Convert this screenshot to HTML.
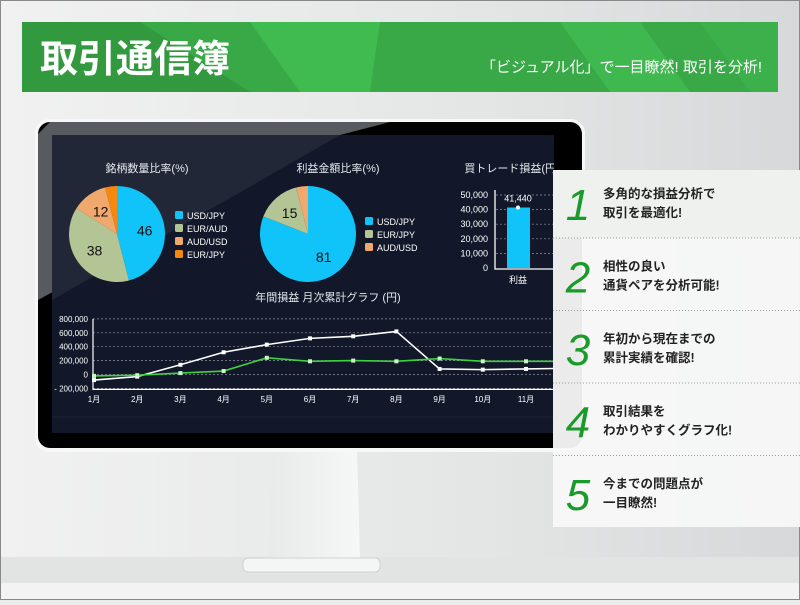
<!DOCTYPE html>
<html><head><meta charset="utf-8"><style>
body{margin:0;width:800px;height:600px;overflow:hidden;background:#ececec}
svg text{font-family:"Liberation Sans","Noto Sans CJK JP",sans-serif}
</style></head><body>
<svg id="s" width="800" height="600" viewBox="0 0 800 600" xmlns="http://www.w3.org/2000/svg">
<defs>
<linearGradient id="bg" x1="0" y1="0" x2="1" y2="0"><stop offset="0" stop-color="#f1f1f1"/><stop offset="0.6" stop-color="#e4e6e6"/><stop offset="1" stop-color="#d6d8d9"/></linearGradient>
<linearGradient id="neck" x1="0" y1="0" x2="1" y2="0"><stop offset="0" stop-color="#e8eaea"/><stop offset="1" stop-color="#f6f7f7"/></linearGradient>
<clipPath id="scr"><rect x="52" y="135" width="502" height="298"/></clipPath>
</defs>
<rect width="800" height="600" fill="url(#bg)"/>
<rect y="557" width="800" height="26" fill="#e2e4e4"/>
<rect y="583" width="800" height="17" fill="#f3f3f3"/>
<rect x="0.5" y="0.5" width="799" height="599" fill="none" stroke="#888"/>
<g>
<rect x="22" y="22" width="756" height="70" fill="#39a847"/>
<polygon points="22,22 140,22 250,92 22,92" fill="#32993f"/>
<polygon points="250,22 380,22 370,92 300,92" fill="#40bb50"/>
<polygon points="560,22 640,22 690,92 610,92" fill="#3fb94f"/>
<polygon points="700,22 778,22 778,92 750,92" fill="#3bb04b"/>
<text x="40" y="72" font-size="38" font-weight="bold" fill="#fff">取引通信簿</text>
<text x="762" y="72" font-size="15" fill="#fff" text-anchor="end">「ビジュアル化」で一目瞭然!  取引を分析!</text>
</g>
<polygon points="273,450 357,450 360,560 268,560" fill="url(#neck)"/>
<rect x="243" y="558" width="137" height="14" rx="5" fill="#f4f5f5" stroke="#d0d2d2"/>
<rect x="35" y="119" width="550" height="333" rx="14" fill="#f7f7f7"/>
<rect x="38" y="122" width="544" height="326" rx="12" fill="#000"/>
<polygon points="50,122 390,122 340,135 38,300 38,134" fill="#575b60"/>
<g clip-path="url(#scr)">
<rect x="52" y="135" width="502" height="298" fill="#121829"/>
<polygon points="52,135 340,135 52,300" fill="#222738"/>
<line x1="52" y1="417" x2="554" y2="417" stroke="#1e2538"/>
<g id="pie1"></g><g id="pie2"></g><g id="bar"></g><g id="line"></g>
</g>
<g>
<rect x="553" y="170" width="247" height="357" fill="#f7f8f7" fill-opacity="0.95"/>
<rect x="553" y="170" width="247" height="68" fill="#eef1ee"/>
<g id="items"></g>
</g>
</svg>
<script>
const NS="http://www.w3.org/2000/svg";
function el(t,a,p){const e=document.createElementNS(NS,t);for(const k in a)e.setAttribute(k,a[k]);if(p)p.appendChild(e);return e;}
function tx(p,x,y,s,o){const e=el("text",Object.assign({x:x,y:y},o||{}),p);e.textContent=s;return e;}

const pie1Labels=["USD/JPY","EUR/AUD","AUD/USD","EUR/JPY"];
const pie1Values=[46,38,12,4];
const pie2Labels=["USD/JPY","EUR/JPY","AUD/USD"];
const pie2Values=[81,15,4];
const pieColors=["#10c3f8","#b3c495","#f0a86c","#f7880f"];
const pie2Colors=["#10c3f8","#b3c495","#f0a86c"];
const barLabels=["利益"];
const barValues=[41440];
const barTicks=[0,10000,20000,30000,40000,50000];
const months=["1月","2月","3月","4月","5月","6月","7月","8月","9月","10月","11月","12月"];
const whiteSeries=[-80000,-30000,140000,320000,430000,520000,550000,620000,80000,70000,80000,90000];
const greenSeries=[-20000,-10000,20000,50000,240000,190000,200000,190000,230000,190000,190000,190000];
const lineTicks=[-200000,0,200000,400000,600000,800000];

function pie(g,cx,cy,r,vals,labs,cols,title,lx,ly){
  tx(g,cx+30,172,title,{"font-size":11,fill:"#e6e8ee","text-anchor":"middle"});
  const tot=vals.reduce((a,b)=>a+b,0);let a0=-Math.PI/2;
  vals.forEach((v,i)=>{
    const a1=a0+v/tot*2*Math.PI;
    const x0=cx+r*Math.cos(a0),y0=cy+r*Math.sin(a0),x1=cx+r*Math.cos(a1),y1=cy+r*Math.sin(a1);
    const p=el("path",{d:`M${cx},${cy}L${x0},${y0}A${r},${r} 0 ${a1-a0>Math.PI?1:0} 1 ${x1},${y1}Z`,fill:cols[i]},g);
    
    
    if(v>=10){const m=(a0+a1)/2;tx(g,cx+r*0.58*Math.cos(m),cy+r*0.58*Math.sin(m)+5,String(v),{"font-size":14,fill:"#111","text-anchor":"middle"});}
    a0=a1;
  });
  labs.forEach((l,i)=>{
    const r2=el("rect",{x:lx,y:ly+i*13-7,width:8,height:8,rx:1.5,fill:cols[i]},g);
    
    
    tx(g,lx+12,ly+i*13+1,l,{"font-size":9,fill:"#fff"});
  });
}
const g1=document.getElementById("pie1");


pie(g1,117,234,48,pie1Values,pie1Labels,pieColors,"銘柄数量比率(%)",175,218);
const g2=document.getElementById("pie2");


pie(g2,308,234,48,pie2Values,pie2Labels,pie2Colors,"利益金額比率(%)",365,224);

const gb=document.getElementById("bar");


tx(gb,512,172,"買トレード損益(円)",{"font-size":11,fill:"#e6e8ee","text-anchor":"middle"});
const by=v=>268-v/50000*73;
barTicks.forEach(t=>{
  tx(gb,488,by(t)+3,t.toLocaleString("en-US"),{"font-size":9,fill:"#fff","text-anchor":"end"});
  if(t>0)el("line",{x1:496,x2:554,y1:by(t),y2:by(t),stroke:"#8a90a0","stroke-dasharray":"2,2","stroke-width":0.7},gb);
});
el("path",{d:"M495,190V269H554",stroke:"#fff",fill:"none","stroke-width":1.3},gb);
barValues.forEach((v,i)=>{
  const b=el("rect",{x:507+i*40,y:by(v),width:23,height:268-by(v),fill:"#10c3f8"},gb);
  
  
  el("circle",{cx:518+i*40,cy:by(v),r:2,fill:"#fff"},gb);
  tx(gb,518+i*40,by(v)-6,v.toLocaleString("en-US"),{"font-size":9,fill:"#fff","text-anchor":"middle"});
  tx(gb,518+i*40,283,barLabels[i],{"font-size":9,fill:"#fff","text-anchor":"middle"});
});

const gl=document.getElementById("line");


tx(gl,328,301,"年間損益  月次累計グラフ (円)",{"font-size":11,fill:"#e6e8ee","text-anchor":"middle"});
const ly=v=>374.5-v/200000*13.9;
const lx=i=>94+i*43.2;
lineTicks.forEach(t=>{
  tx(gl,88,ly(t)+3,(t<0?"- ":"")+Math.abs(t).toLocaleString("en-US"),{"font-size":8,fill:"#fff","text-anchor":"end"});
  el("line",{x1:93,x2:560,y1:ly(t),y2:ly(t),stroke:"#8a90a0","stroke-dasharray":"2,2","stroke-width":0.7},gl);
});
el("path",{d:`M93,${ly(800000)}V${ly(-200000)+1}H560`,stroke:"#fff",fill:"none","stroke-width":1.2},gl);
months.forEach((m,i)=>tx(gl,lx(i),402,m,{"font-size":8,fill:"#fff","text-anchor":"middle"}));
[[whiteSeries,"#ffffff","line-cumulative"],[greenSeries,"#3fd23f","line-monthly"]].forEach(([s,c,n])=>{
  const p=el("polyline",{points:s.map((v,i)=>lx(i)+","+ly(v)).join(" "),fill:"none",stroke:c,"stroke-width":1.6},gl);
  
  
  s.forEach((v,i)=>el("rect",{x:lx(i)-2,y:ly(v)-2,width:4,height:4,fill:c==="#ffffff"?"#fff":"#c8f5c8"},gl));
});

const items=[["多角的な損益分析で","取引を最適化!"],["相性の良い","通貨ペアを分析可能!"],["年初から現在までの","累計実績を確認!"],["取引結果を","わかりやすくグラフ化!"],["今までの問題点が","一目瞭然!"]];
const gi=document.getElementById("items");
items.forEach((it,i)=>{
  const y0=170+i*72.5;
  const g=el("g",{},gi);
  
  
  tx(g,578,y0+50,String(i+1),{"font-size":44,"font-style":"italic",fill:"#1a9a2a","text-anchor":"middle"});
  tx(g,603,y0+28,it[0],{"font-size":12.5,"font-weight":"bold",fill:"#222"});
  tx(g,603,y0+47,it[1],{"font-size":12.5,"font-weight":"bold",fill:"#222"});
  if(i<4)el("line",{x1:553,x2:800,y1:y0+68,y2:y0+68,stroke:"#999","stroke-dasharray":"1,2"},gi);
});
</script>
</body></html>
